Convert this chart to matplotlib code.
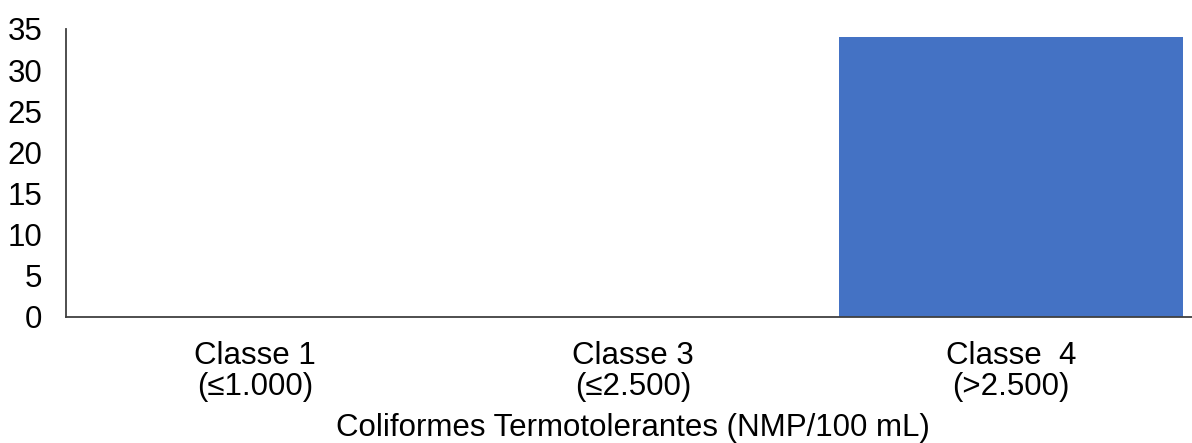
import matplotlib.pyplot as plt

# Categories and values
classes = ['Classe 1\n(≤1.000)', 'Classe 3\n(≤2.500)', 'Classe  4\n(>2.500)']
counts = [0, 0, 34]
yticks = [0, 5, 10, 15, 20, 25, 30, 35]

plt.rcParams['font.family'] = ['Liberation Sans', 'DejaVu Sans']

fig = plt.figure(figsize=(11.92, 4.43), dpi=100)
ax = fig.add_axes([66 / 1192, 1 - 317 / 443, 1134 / 1192, 288 / 443])

ax.bar(range(len(classes)), counts, width=0.91, color='#4472C4')

ax.set_xlim(-0.5, 2.5)
ax.set_ylim(0, 35)
ax.set_yticks(yticks)
ax.set_xticks(range(len(classes)))
ax.set_xticklabels(classes, fontsize=22.5, linespacing=1.05)
ax.tick_params(axis='y', length=0, labelsize=22.5, pad=17)
ax.tick_params(axis='x', length=0, pad=17)

for s in ['top', 'right']:
    ax.spines[s].set_visible(False)
for s in ['left', 'bottom']:
    ax.spines[s].set_color('#404040')
    ax.spines[s].set_linewidth(1.3)

ax.set_xlabel('Coliformes Termotolerantes (NMP/100 mL)', fontsize=22.5, labelpad=8)

fig.savefig('out.png', dpi=100)
